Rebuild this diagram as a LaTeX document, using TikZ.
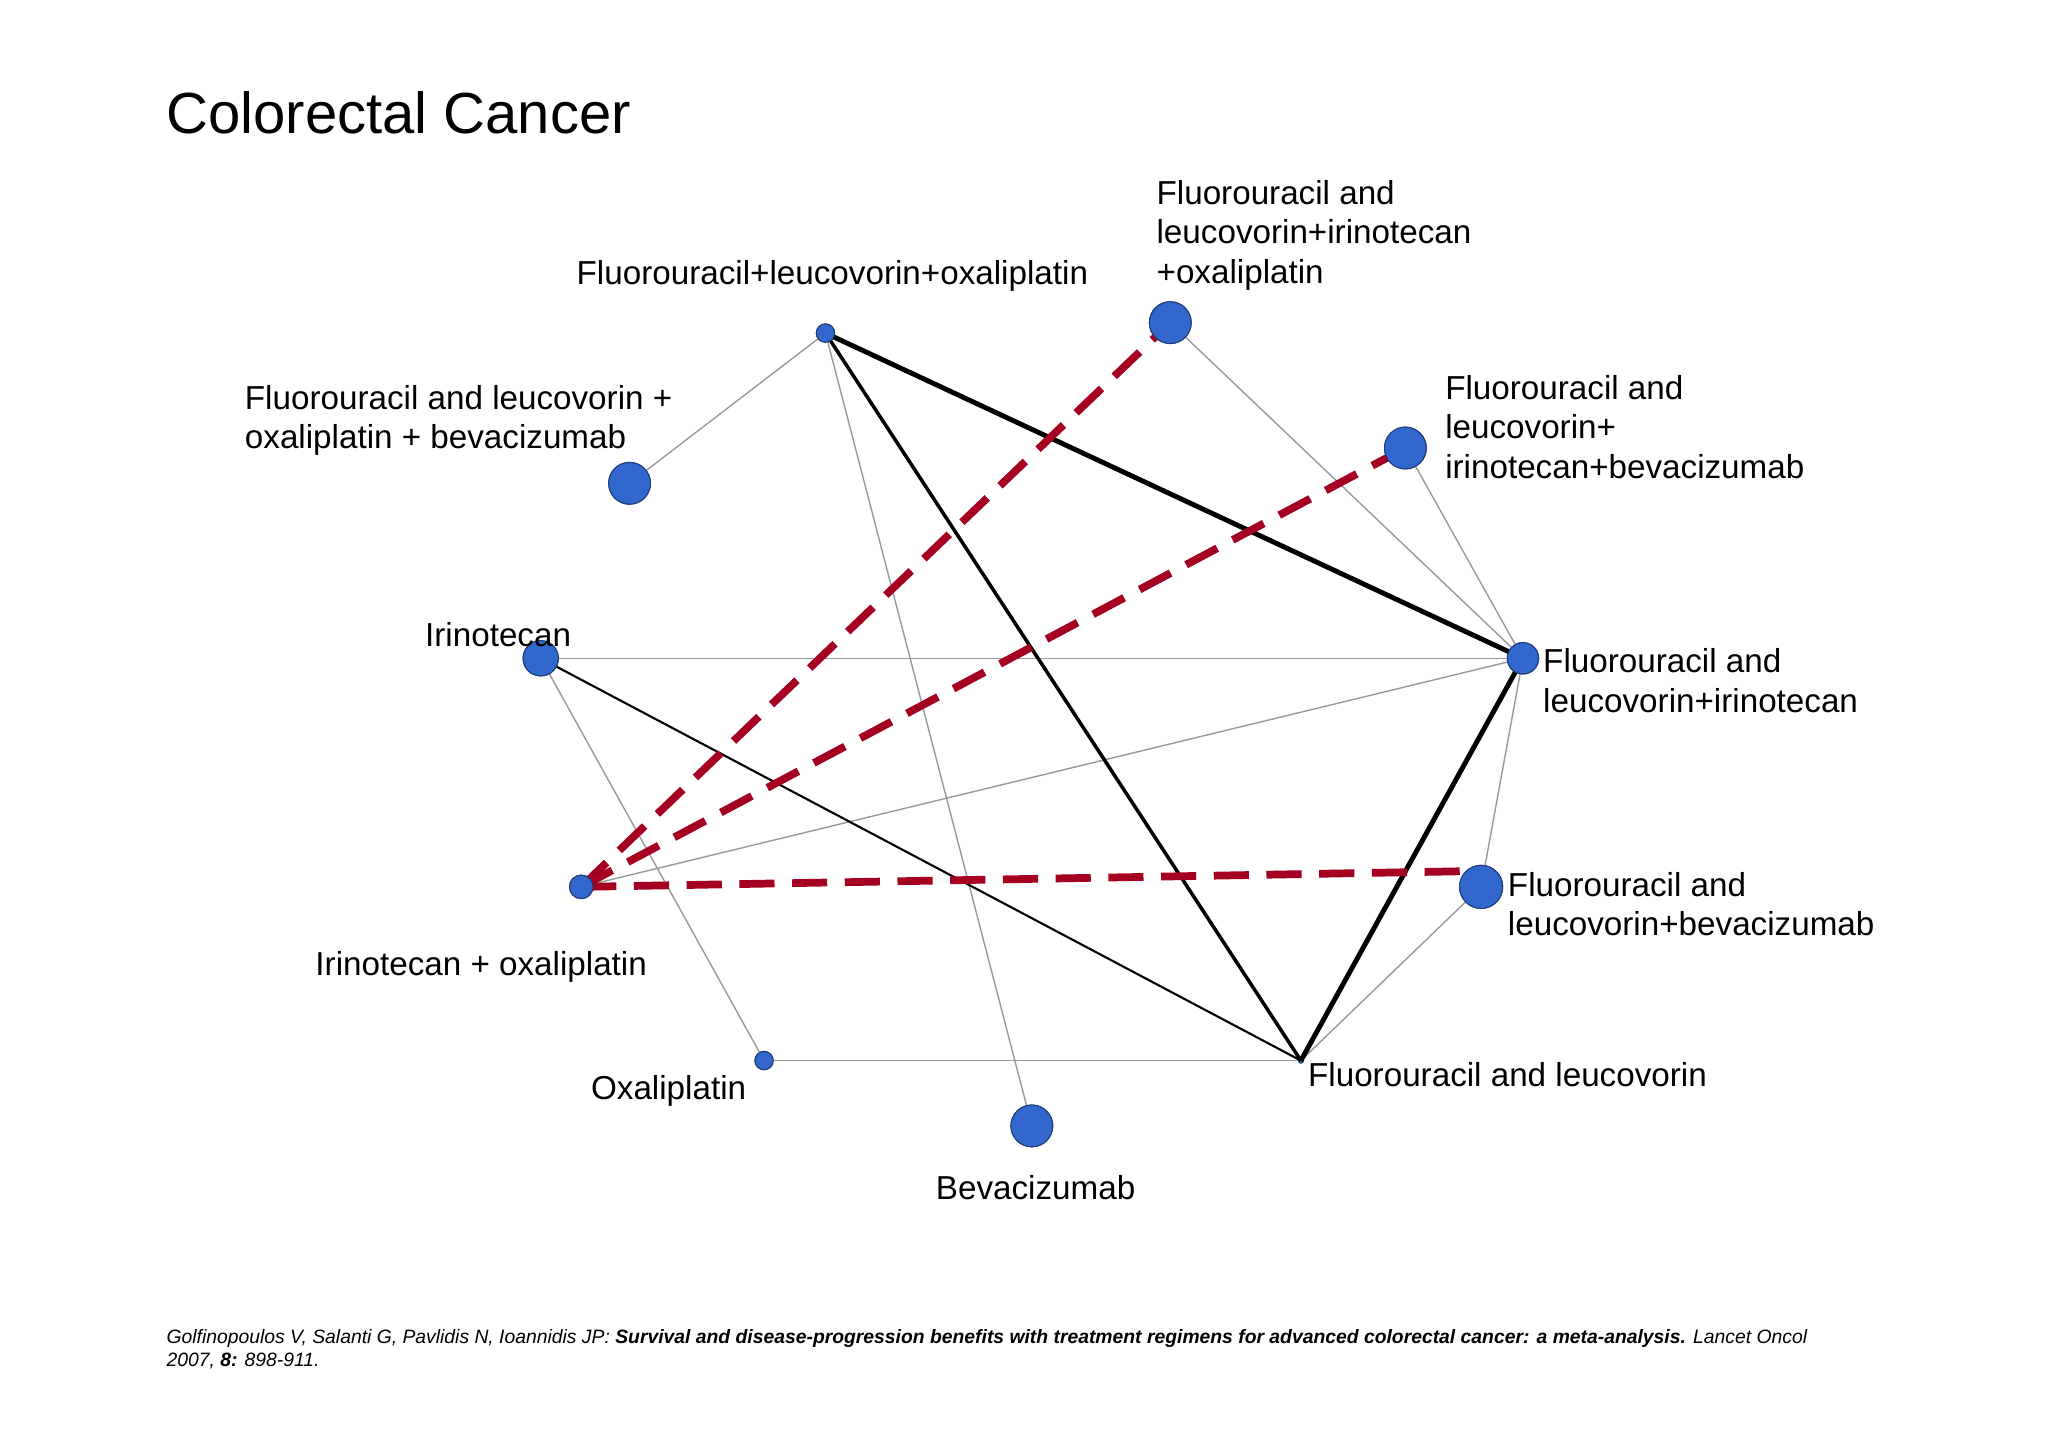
\documentclass[tikz,border=0pt]{standalone}
\usepackage{fontspec}
\setmainfont{Liberation Sans}
\definecolor{nb}{RGB}{50,104,205}
\definecolor{rd}{RGB}{165,0,33}
\begin{document}
\begin{tikzpicture}[x=0.013061cm,y=-0.013061cm,
 dot/.style={circle,fill=nb,draw=nb!60!black,line width=0.3pt,inner sep=0pt,minimum size=#1},
 lab/.style={font=\fontsize{9.45pt}{11.2pt}\selectfont,align=left,inner sep=0pt},
 g/.style={gray!80,line width=0.4pt},
 bk/.style={black,line width=#1},
 rdash/.style={rd,line width=2.2pt,dash pattern=on 10pt off 5pt}]
\useasboundingbox (0,0) rectangle (1568,1108);
\node[anchor=west,inner sep=0pt,font=\fontsize{16.5pt}{18pt}\selectfont] (title) at (127,86) {Colorectal Cancer};
\node[dot=14*0.013061cm] (FLO) at (632,255) {};
\node[dot=32*0.013061cm] (FLIO) at (896,247) {};
\node[dot=32*0.013061cm] (FLOB) at (482,370) {};
\node[dot=32*0.013061cm] (FLIB) at (1076,343) {};
\node[dot=27*0.013061cm] (Iri) at (414,504) {};
\node[dot=24*0.013061cm] (FLI) at (1166,504) {};
\node[dot=18*0.013061cm] (IO) at (445,679) {};
\node[dot=33*0.013061cm] (FLB) at (1134,679) {};
\node[dot=14*0.013061cm] (Oxa) at (585,812) {};
\node[dot=4*0.013061cm] (FL) at (996,812) {};
\node[dot=32*0.013061cm] (Bev) at (790,862) {};
\coordinate (FLBend) at (1122,667);
\draw[g] (FLO.center) -- (FLOB);
\draw[g] (FLO.center) -- (Bev);
\draw[g] (FLIO) -- (FLI.center);
\draw[g] (FLIB) -- (FLI.center);
\draw[g] (Iri.center) -- (FLI.center);
\draw[g] (Iri.center) -- (Oxa.center);
\draw[g] (IO.center) -- (FLI.center);
\draw[g] (FLI.center) -- (FLB);
\draw[g] (FLB) -- (FL.center);
\draw[g] (Oxa.center) -- (FL.center);
\draw[bk=1.4pt] (FLO.center) -- (FLI.center);
\draw[bk=1pt] (FLO.center) -- (FL.center);
\draw[bk=1.4pt] (FLI.center) -- (FL.center);
\draw[bk=0.6pt] (Iri.center) -- (FL.center);
\draw[rdash] (IO.center) -- (FLIO.center);
\draw[rdash] (IO.center) -- (FLIB.center);
\draw[rdash] (IO.center) -- (FLBend);
\foreach \n/\s in {FLO/14,FLIO/32,FLOB/32,FLIB/32,Iri/27,FLI/24,IO/18,FLB/33,Oxa/14,Bev/32}
  \node[dot=\s*0.013061cm] at (\n) {};
\node[lab,anchor=west] (lFLO) at (441,211) {Fluorouracil+leucovorin+oxaliplatin};
\node[lab,anchor=west] (lFLIO) at (885,180) {Fluorouracil and\\leucovorin+irinotecan\\+oxaliplatin};
\node[lab,anchor=west] (lFLOB) at (187,322) {Fluorouracil and leucovorin +\\oxaliplatin + bevacizumab};
\node[lab,anchor=west] (lFLIB) at (1106,327) {Fluorouracil and\\leucovorin+\\irinotecan+bevacizumab};
\node[lab,anchor=west] (lIri) at (325,486) {Irinotecan};
\node[lab,anchor=west] (lFLI) at (1181,521) {Fluorouracil and\\leucovorin+irinotecan};
\node[lab,anchor=west] (lIO) at (241,740) {Irinotecan + oxaliplatin};
\node[lab,anchor=west] (lFLB) at (1154,692) {Fluorouracil and\\leucovorin+bevacizumab};
\node[lab,anchor=west] (lOxa) at (452,835) {Oxaliplatin};
\node[lab,anchor=west] (lFL) at (1001,823) {Fluorouracil and leucovorin};
\node[lab,anchor=west] (lBev) at (716,909) {Bevacizumab};
\node[anchor=north west,align=left,inner sep=0pt,font=\fontsize{5.5pt}{6.7pt}\selectfont\itshape] (cite) at (127,1017)
 {Golfinopoulos V, Salanti G, Pavlidis N, Ioannidis JP: \textbf{Survival and disease-progression benefits with treatment regimens for advanced colorectal cancer: a meta-analysis.} Lancet Oncol\\2007, \textbf{8:} 898-911.};
\end{tikzpicture}
\end{document}
